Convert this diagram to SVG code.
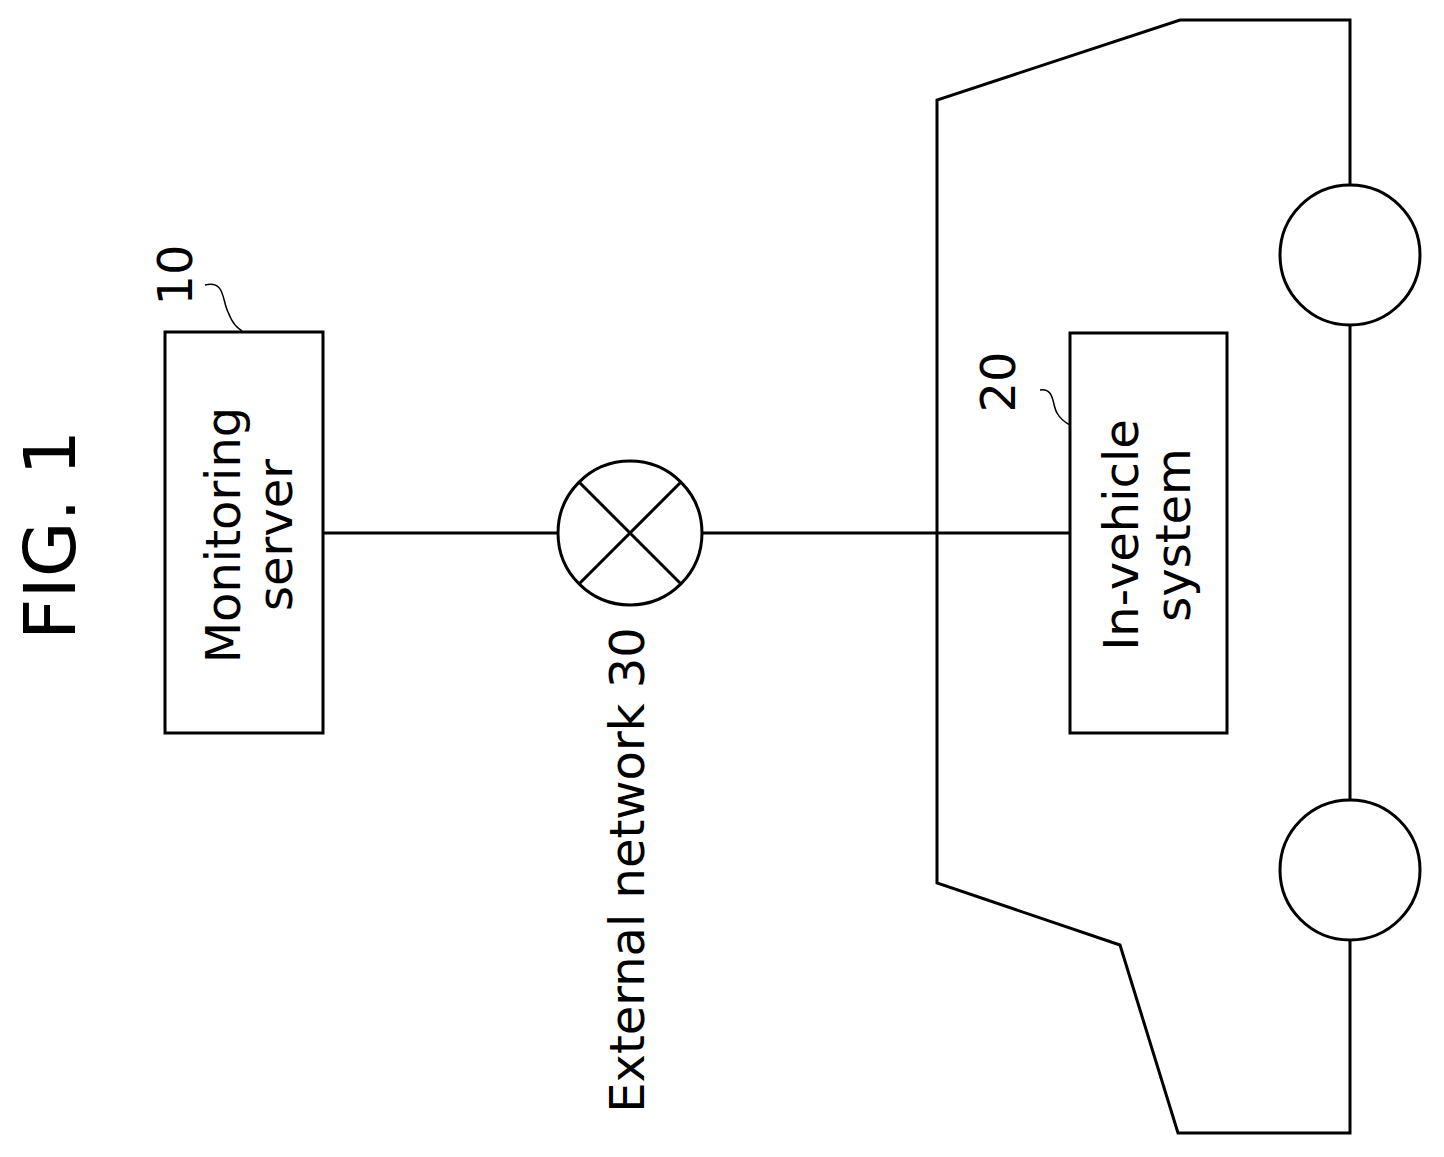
<svg xmlns="http://www.w3.org/2000/svg" width="1444" height="1157" viewBox="0 0 1444 1157">
<style>
.s{fill:none;stroke:#000;stroke-width:3}
.t{font-family:"DejaVu Sans",sans-serif;font-size:48px;text-anchor:middle;fill:#000}
</style>
<rect width="1444" height="1157" fill="#fff"/>
<text class="t" style="font-size:72px" transform="translate(75,535) rotate(-90)">FIG. 1</text>
<g id="vehicle">
<path class="s" d="M1350,185 L1350,20 L1180,20 L937,100 L937,883 L1120,945 L1178,1133 L1350,1133 L1350,940 M1350,325 L1350,800"/>
<circle class="s" cx="1350" cy="255" r="70"/>
<circle class="s" cx="1350" cy="870" r="70"/>
</g>
<g id="server">
<rect class="s" x="165" y="332" width="158" height="401"/>
<text class="t" transform="translate(240,535) rotate(-90)">Monitoring</text>
<text class="t" transform="translate(292,535) rotate(-90)">server</text>
<text class="t" transform="translate(192,275) rotate(-90)">10</text>
<path class="s" style="stroke-width:1.5" d="M205,285 C225,280 222,300 228,312 C233,325 238,328 242,331"/>
</g>
<g id="network">
<circle class="s" cx="630" cy="533" r="72"/>
<path class="s" d="M579,482 L681,584 M681,482 L579,584"/>
<text class="t" transform="translate(644,870) rotate(-90)">External network 30</text>
</g>
<g id="invehicle">
<rect class="s" x="1070" y="333" width="157" height="400"/>
<text class="t" transform="translate(1138,535) rotate(-90)">In-vehicle</text>
<text class="t" transform="translate(1190,535) rotate(-90)">system</text>
<text class="t" transform="translate(1015,382) rotate(-90)">20</text>
<path class="s" style="stroke-width:1.5" d="M1040,390 C1055,388 1052,405 1057,413 C1061,420 1066,423 1070,425"/>
</g>
<g id="connectors">
<path class="s" d="M323,533 L558,533 M702,533 L1070,533"/>
</g>
</svg>
